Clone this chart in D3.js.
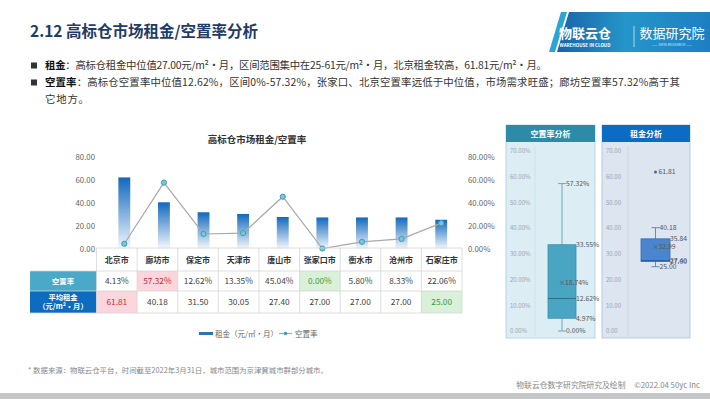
<!DOCTYPE html>
<html>
<head>
<meta charset="UTF-8" />
<script src="https://cdn.jsdelivr.net/npm/d3@7/dist/d3.min.js"></script>
<style>
  html, body { margin: 0; padding: 0; background: #fff; }
  svg { display: block; font-family: "Noto Sans CJK SC", "Noto Sans", sans-serif; }
</style>
</head>
<body>
<div id="page"></div>
<script>
// data
const cities = ["北京市", "廊坊市", "保定市", "天津市", "唐山市", "张家口市", "衡水市", "沧州市", "石家庄市"];
const rent = [61.81, 40.18, 31.50, 30.05, 27.40, 27.00, 27.00, 27.00, 25.00];
const vacancy = [4.13, 57.32, 12.62, 13.35, 45.04, 0.00, 5.80, 8.33, 22.06];
const chartTicks = [0, 20, 40, 60, 80];
const boxTicks = [0, 10, 20, 30, 40, 50, 60, 70];

// round half up, avoiding float noise (4.965 -> 4.97)
const fix2 = v => (Math.round(v * 100 + 1e-6) / 100).toFixed(2);

const svg = d3.select("#page").append("svg")
    .attr("width", 710)
    .attr("height", 399)
    .attr("viewBox", [0, 0, 710, 399]);

svg.append("rect").attr("width", 710).attr("height", 399).attr("fill", "#fff");

const defs = svg.append("defs");
const barGrad = defs.append("linearGradient").attr("id", "barGrad")
    .attr("x1", 0).attr("y1", 0).attr("x2", 0).attr("y2", 1);
barGrad.append("stop").attr("offset", "0%").attr("stop-color", "#1268bd");
barGrad.append("stop").attr("offset", "100%").attr("stop-color", "#f2f7fc");

const logoGrad = defs.append("linearGradient").attr("id", "logoGrad")
    .attr("x1", 0).attr("y1", 0).attr("x2", 1).attr("y2", 0);
logoGrad.append("stop").attr("offset", "0%").attr("stop-color", "#1a62a8");
logoGrad.append("stop").attr("offset", "45%").attr("stop-color", "#2596c9");
logoGrad.append("stop").attr("offset", "100%").attr("stop-color", "#1d7fc2");

// ---------- header ----------
svg.append("text")
    .attr("x", 30).attr("y", 37)
    .attr("font-size", 15.5).attr("font-weight", "bold")
    .attr("fill", "#1f3b6a")
    .text("2.12 高标仓市场租金/空置率分析");

// logo
const logo = svg.append("g");
logo.append("polygon").attr("points", "561,12 567,12 555,52 549,52").attr("fill", "#2aa6d6");
logo.append("polygon").attr("points", "569,12 710,12 710,52 557,52").attr("fill", "url(#logoGrad)");
logo.append("text").attr("x", 585).attr("y", 38).attr("text-anchor", "middle")
    .attr("font-size", 13).attr("font-weight", "bold").attr("fill", "#fff").text("物联云仓");
logo.append("text").attr("x", 585).attr("y", 46.5).attr("text-anchor", "middle")
    .attr("font-size", 4.5).attr("font-weight", "bold").attr("fill", "#fff").text("WAREHOUSE IN CLOUD");
logo.append("line").attr("x1", 634).attr("x2", 634).attr("y1", 26).attr("y2", 47)
    .attr("stroke", "#cfe8f5").attr("stroke-width", 0.8);
logo.append("text").attr("x", 672).attr("y", 38).attr("text-anchor", "middle")
    .attr("font-size", 13).attr("fill", "#fff").text("数据研究院");
logo.append("text").attr("x", 672).attr("y", 45.5).attr("text-anchor", "middle")
    .attr("font-size", 3.5).attr("fill", "#d8eef8").text("——  DATA RESEARCH  ——");

// bullets (line length matched to the source layout)
const bullets = [
  { y: 69, len: 502, key: "租金", rest: "：高标仓租金中位值27.00元/m²·月，区间范围集中在25-61元/m²·月，北京租金较高，61.81元/m²·月。" },
  { y: 86, len: 635, key: "空置率", rest: "：高标仓空置率中位值12.62%，区间0%-57.32%，张家口、北京空置率远低于中位值，市场需求旺盛；廊坊空置率57.32%高于其" }
];
bullets.forEach(b => {
  svg.append("rect").attr("x", 31).attr("y", b.y - 6.5).attr("width", 6).attr("height", 6).attr("fill", "#333");
  const t = svg.append("text").attr("x", 45).attr("y", b.y)
      .attr("font-size", 10.4).attr("fill", "#333")
      .attr("textLength", b.len).attr("lengthAdjust", "spacing");
  t.append("tspan").attr("font-weight", "bold").attr("fill", "#111").text(b.key);
  t.append("tspan").text(b.rest);
});
svg.append("text").attr("x", 45).attr("y", 103)
    .attr("font-size", 10.4).attr("fill", "#333").attr("letter-spacing", 0.8).text("它地方。");

// ---------- combo chart ----------
const x = d3.scaleBand().domain(cities).range([104.5, 461]).paddingInner(0.7).paddingOuter(0.35);
const y = d3.scaleLinear().domain([0, 80]).range([248.5, 156.5]);
const yR = d3.scaleLinear().domain([0, 80]).range([248.5, 156.5]);

svg.append("text")
    .attr("x", 257).attr("y", 143).attr("text-anchor", "middle")
    .attr("font-size", 9.5).attr("font-weight", "bold").attr("fill", "#333")
    .text("高标仓市场租金/空置率");

const axL = svg.append("g").attr("transform", "translate(98,0)")
    .call(d3.axisLeft(y).tickValues(chartTicks).tickSize(0).tickPadding(3).tickFormat(d3.format(".2f")));
const axR = svg.append("g").attr("transform", "translate(465,0)")
    .call(d3.axisRight(yR).tickValues(chartTicks).tickSize(0).tickPadding(3).tickFormat(d => d.toFixed(2) + "%"));
[axL, axR].forEach(a => {
  a.select(".domain").remove();
  a.selectAll("text").attr("font-size", 7.8).attr("fill", "#666")
      .attr("font-family", "\"Noto Sans CJK SC\", sans-serif");
});

svg.append("g").selectAll("rect")
    .data(cities)
    .join("rect")
    .attr("x", d => x(d))
    .attr("width", x.bandwidth())
    .attr("y", (d, i) => y(rent[i]))
    .attr("height", (d, i) => y(0) - y(rent[i]))
    .attr("fill", "url(#barGrad)");

const line = d3.line()
    .x((d, i) => x(cities[i]) + x.bandwidth() / 2)
    .y(d => yR(d));
svg.append("path")
    .datum(vacancy)
    .attr("d", line)
    .attr("fill", "none")
    .attr("stroke", "#a9a9a9")
    .attr("stroke-width", 1.2);
svg.append("g").selectAll("circle")
    .data(vacancy)
    .join("circle")
    .attr("cx", (d, i) => x(cities[i]) + x.bandwidth() / 2)
    .attr("cy", d => yR(d))
    .attr("r", 2.6)
    .attr("fill", "#7cc4d4")
    .attr("stroke", "#3f9db6")
    .attr("stroke-width", 1);

// ---------- data table ----------
const col = d3.scaleBand().domain(cities).range([96.5, 462]);
const rowY = [248, 271, 291, 313];
const tbl = svg.append("g");

const vMax = d3.max(vacancy), vMin = d3.min(vacancy);
const rMax = d3.max(rent), rMin = d3.min(rent);
const rows = [
  { label: ["空置率"], fill: "#4aa9c8", vals: vacancy, fmt: d => fix2(d) + "%", max: vMax, min: vMin },
  { label: ["平均租金", "（元/m²·月）"], fill: "#0d6cc0", vals: rent, fmt: fix2, max: rMax, min: rMin }
];

rows.forEach((r, ri) => {
  const y0 = rowY[ri + 1], y1 = rowY[ri + 2];
  tbl.append("rect").attr("x", 30).attr("y", y0).attr("width", 96.5 - 30).attr("height", y1 - y0).attr("fill", r.fill);
  r.label.forEach((s, k) => {
    tbl.append("text")
        .attr("x", 63).attr("y", r.label.length === 1 ? (y0 + y1) / 2 + 3 : y0 + 8.6 + k * 9.6)
        .attr("text-anchor", "middle").attr("font-size", 7.3).attr("font-weight", "bold")
        .attr("fill", "#fff").text(s);
  });
  r.vals.forEach((v, i) => {
    const cx = col(cities[i]);
    let bg = null, fg = "#444";
    if (v === r.max) { bg = "#fbd6dc"; fg = "#c0303f"; }
    else if (v === r.min) { bg = "#d9f0d9"; fg = "#3f9a3f"; }
    if (bg) tbl.append("rect").attr("x", cx).attr("y", y0).attr("width", col.bandwidth()).attr("height", y1 - y0).attr("fill", bg);
    tbl.append("text")
        .attr("x", cx + col.bandwidth() / 2).attr("y", (y0 + y1) / 2 + 3)
        .attr("text-anchor", "middle").attr("font-size", 8.3).attr("fill", fg)
        .text(r.fmt(v));
  });
});

cities.forEach(c => {
  tbl.append("text")
      .attr("x", col(c) + col.bandwidth() / 2).attr("y", (rowY[0] + rowY[1]) / 2 + 3)
      .attr("text-anchor", "middle").attr("font-size", 8).attr("font-weight", "bold")
      .attr("fill", "#333").text(c);
});

// grid lines of table
const gridColor = "#d6d6d6";
rowY.forEach((yy, k) => {
  tbl.append("line").attr("x1", k === 0 ? 96.5 : 30).attr("x2", 462)
      .attr("y1", yy).attr("y2", yy).attr("stroke", gridColor).attr("stroke-width", 0.8);
});
cities.forEach((c, i) => {
  tbl.append("line").attr("x1", col(c)).attr("x2", col(c))
      .attr("y1", rowY[0]).attr("y2", rowY[3]).attr("stroke", gridColor).attr("stroke-width", 0.8);
});
tbl.append("line").attr("x1", 462).attr("x2", 462).attr("y1", rowY[0]).attr("y2", rowY[3])
    .attr("stroke", gridColor).attr("stroke-width", 0.8);

// legend
const lg = svg.append("g");
lg.append("rect").attr("x", 199).attr("y", 332).attr("width", 14).attr("height", 3).attr("fill", "#2a74c0");
lg.append("text").attr("x", 215).attr("y", 336.5).attr("font-size", 7.5).attr("fill", "#666").text("租金（元/㎡·月）");
lg.append("line").attr("x1", 279).attr("x2", 292).attr("y1", 333.5).attr("y2", 333.5).attr("stroke", "#a9a9a9").attr("stroke-width", 1.2);
lg.append("circle").attr("cx", 285.5).attr("cy", 333.5).attr("r", 1.8).attr("fill", "#3f9db6");
lg.append("text").attr("x", 295).attr("y", 336.5).attr("font-size", 7.5).attr("fill", "#666").text("空置率");

// ---------- box plots ----------
function quartileExc(sorted, p) {
  const n = sorted.length, h = p * (n + 1), lo = Math.floor(h);
  if (lo < 1) return sorted[0];
  if (lo >= n) return sorted[n - 1];
  return sorted[lo - 1] + (h - lo) * (sorted[lo] - sorted[lo - 1]);
}

const by = d3.scaleLinear().domain([0, 70]).range([331, 151]);

function boxPanel(opt) {
  const g = svg.append("g");
  g.append("rect").attr("x", opt.x0).attr("y", 125).attr("width", opt.x1 - opt.x0).attr("height", 213)
      .attr("fill", opt.body).attr("stroke", opt.border).attr("stroke-width", 0.8);
  g.append("rect").attr("x", opt.x0).attr("y", 125).attr("width", opt.x1 - opt.x0).attr("height", 17)
      .attr("fill", opt.head);
  g.append("text").attr("x", (opt.x0 + opt.x1) / 2).attr("y", 137).attr("text-anchor", "middle")
      .attr("font-size", 8).attr("font-weight", "bold").attr("fill", "#fff").text(opt.title);
  g.append("line").attr("x1", opt.axisX).attr("x2", opt.axisX).attr("y1", 146).attr("y2", 336)
      .attr("stroke", opt.border).attr("stroke-width", 0.5).attr("opacity", 0.6);
  g.selectAll(".tk").data(boxTicks).join("text")
      .attr("x", opt.x0 + 4).attr("y", d => by(d) + 2.3)
      .attr("font-size", 6).attr("fill", "#9aa4ad")
      .text(d => opt.fmt(d));

  const s = opt.values.slice().sort(d3.ascending);
  const q1 = quartileExc(s, 0.25), q3 = quartileExc(s, 0.75), med = quartileExc(s, 0.5);
  const mean = d3.mean(s), iqr = q3 - q1;
  const hiW = d3.max(s.filter(v => v <= q3 + 1.5 * iqr));
  const loW = d3.min(s.filter(v => v >= q1 - 1.5 * iqr));
  const outliers = s.filter(v => v > hiW || v < loW);
  const cx = (opt.bx0 + opt.bx1) / 2;

  g.append("line").attr("x1", cx).attr("x2", cx).attr("y1", by(hiW)).attr("y2", by(loW))
      .attr("stroke", opt.whisker).attr("stroke-width", 1);
  [hiW, loW].forEach(v => g.append("line").attr("x1", cx - 4).attr("x2", cx + 4)
      .attr("y1", by(v)).attr("y2", by(v)).attr("stroke", opt.whisker).attr("stroke-width", 1));
  g.append("rect").attr("x", opt.bx0).attr("y", by(q3)).attr("width", opt.bx1 - opt.bx0)
      .attr("height", by(q1) - by(q3)).attr("fill", opt.boxFill).attr("stroke", opt.boxStroke).attr("stroke-width", 0.8);
  g.append("line").attr("x1", opt.bx0).attr("x2", opt.bx1).attr("y1", by(med)).attr("y2", by(med))
      .attr("stroke", opt.medColor).attr("stroke-width", 1);
  g.append("text").attr("x", cx).attr("y", by(mean) + 2.5).attr("text-anchor", "middle")
      .attr("font-size", 7).attr("fill", "#555").text("×");
  outliers.forEach(v => g.append("circle").attr("cx", cx).attr("cy", by(v)).attr("r", 1.5).attr("fill", opt.boxStroke));

  // Q1 and median nearly coincide in the rent panel; their labels overlap just as in the source
  const labels = [
    { v: hiW, x: cx + 4 }, { v: loW, x: cx + 4 },
    { v: q3, x: opt.bx1 }, { v: q1, x: opt.bx1 }, { v: med, x: opt.bx1 },
    { v: mean, x: cx + 3 }
  ].concat(outliers.map(v => ({ v, x: cx + 3 })));
  g.selectAll(".lb").data(labels).join("text")
      .attr("x", d => d.x).attr("y", d => by(d.v) + 2.4)
      .attr("font-size", 6.8).attr("fill", "#555")
      .text(d => opt.fmt(d.v));
}

boxPanel({
  x0: 506, x1: 595, axisX: 535, title: "空置率分析",
  head: "#2e8ba8", body: "#dcedf4", border: "#a9cfe0",
  values: vacancy, fmt: d => fix2(d) + "%",
  bx0: 548, bx1: 576, boxFill: "#4aa5c3", boxStroke: "#3a8db0", medColor: "#2a6f8c", whisker: "#6aa6c0"
});
boxPanel({
  x0: 602, x1: 690, axisX: 628, title: "租金分析",
  head: "#0c6cc3", body: "#dde5f0", border: "#a9c2dc",
  values: rent, fmt: fix2,
  bx0: 641, bx1: 670, boxFill: "#4a86cf", boxStroke: "#2f6db6", medColor: "#2a5fa6", whisker: "#5a8cc6"
});

// ---------- footer ----------
svg.append("text").attr("x", 28).attr("y", 373).attr("font-size", 7.4).attr("fill", "#888")
    .text("* 数据来源：物联云仓平台，时间截至2022年3月31日，城市范围为京津冀城市群部分城市。");
svg.append("text").attr("x", 700).attr("y", 388).attr("text-anchor", "end").attr("font-size", 7.8).attr("fill", "#888")
    .attr("xml:space", "preserve")
    .text("物联云仓数字研究院研究及绘制     ©2022.04 50yc Inc");
svg.append("rect").attr("x", 0).attr("y", 393).attr("width", 710).attr("height", 6).attr("fill", "#c3c7c7");
</script>
</body>
</html>
